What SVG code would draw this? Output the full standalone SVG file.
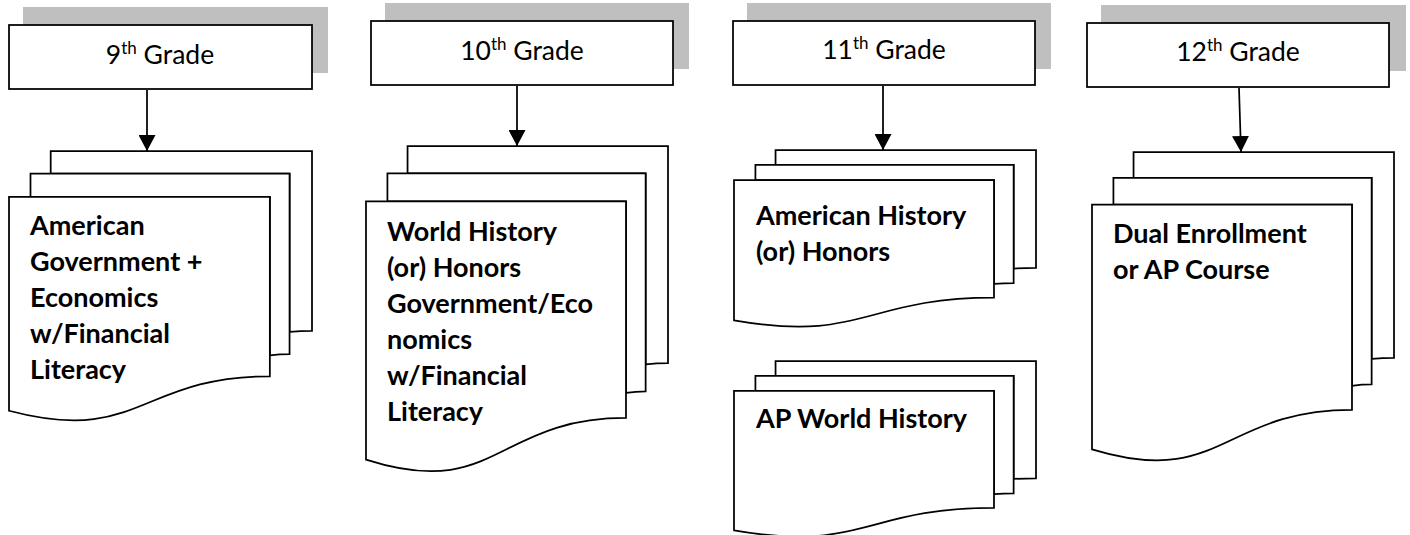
<svg xmlns="http://www.w3.org/2000/svg" xmlns:xlink="http://www.w3.org/1999/xlink" width="1410" height="535" viewBox="0 0 1410 535">
<style>
.shadow{fill:#bfbfbf;stroke:none}
.box{fill:#ffffff;stroke:#000000;stroke-width:1.75}
.doc{fill:#ffffff;stroke:#000000;stroke-width:1.75}
#multidoc path{vector-effect:non-scaling-stroke}
.hdr{font-family:Lato,"Liberation Sans",sans-serif;font-size:26.5px;fill:#000000;text-anchor:middle}
.lbl{font-family:Lato,"Liberation Sans",sans-serif;font-size:27px;font-weight:bold;fill:#000000}
.conn{stroke:#000000;stroke-width:1.75;fill:none}
</style>
<defs>
<marker id="arrow" markerUnits="userSpaceOnUse" markerWidth="16" markerHeight="17" refX="16" refY="8.5" orient="auto" viewBox="0 0 16 17">
<path d="M0,0 L16,8.5 L0,17 Z" fill="#000000"/>
</marker>
<g id="multidoc">
<path d="M2972,1815 L2972,0 L21600,0 L21600,14392 C20800,14392 20000,14467 20000,14467 L20000,1815 Z"/>
<path d="M1532,3675 L1532,1815 L20000,1815 L20000,16252 C19298,16252 18595,16352 18595,16352 L18595,3675 Z"/>
<path d="M0,20782 C9298,23542 9298,18022 18595,18022 L18595,3675 L0,3675 Z"/>
</g>
</defs>
<rect width="1410" height="535" fill="#ffffff"/>

<g id="grade9">
<rect class="shadow" x="23" y="7" width="305" height="66"/>
<rect class="box" x="9" y="25" width="303" height="64"/>
<text class="hdr" x="160" y="64">9<tspan font-size="17" dy="-10">th</tspan><tspan dy="10"> Grade</tspan></text>
</g>
<g id="grade10">
<rect class="shadow" x="385" y="3" width="304" height="66"/>
<rect class="box" x="371" y="21" width="302" height="64"/>
<text class="hdr" x="522" y="60">10<tspan font-size="17" dy="-10">th</tspan><tspan dy="10"> Grade</tspan></text>
</g>
<g id="grade11">
<rect class="shadow" x="747" y="3" width="304" height="66"/>
<rect class="box" x="733" y="21" width="302" height="64"/>
<text class="hdr" x="884" y="59">11<tspan font-size="17" dy="-10">th</tspan><tspan dy="10"> Grade</tspan></text>
</g>
<g id="grade12">
<rect class="shadow" x="1101" y="5" width="305" height="66"/>
<rect class="box" x="1087" y="23" width="302" height="64"/>
<text class="hdr" x="1238" y="61">12<tspan font-size="17" dy="-10">th</tspan><tspan dy="10"> Grade</tspan></text>
</g>

<g id="course9">
<g class="doc" transform="translate(9,151) scale(0.0140278,0.0125)"><use xlink:href="#multidoc"/></g>
<text class="lbl" x="30" y="235">American</text>
<text class="lbl" x="30" y="271">Government +</text>
<text class="lbl" x="30" y="307">Economics</text>
<text class="lbl" x="30" y="343">w/Financial</text>
<text class="lbl" x="30" y="379">Literacy</text>
</g>
<g id="course10">
<g class="doc" transform="translate(366,146) scale(0.0139815,0.0150926)"><use xlink:href="#multidoc"/></g>
<text class="lbl" x="387" y="241">World History</text>
<text class="lbl" x="387" y="277">(or) Honors</text>
<text class="lbl" x="387" y="313">Government/Eco</text>
<text class="lbl" x="387" y="349">nomics</text>
<text class="lbl" x="387" y="385">w/Financial</text>
<text class="lbl" x="387" y="421">Literacy</text>
</g>
<g id="course11a">
<g class="doc" transform="translate(734,150) scale(0.0139815,0.0081944)"><use xlink:href="#multidoc"/></g>
<text class="lbl" x="756" y="225">American History</text>
<text class="lbl" x="756" y="261">(or) Honors</text>
</g>
<g id="course11b">
<g class="doc" transform="translate(734,361) scale(0.0139815,0.0081481)"><use xlink:href="#multidoc"/></g>
<text class="lbl" x="756" y="428">AP World History</text>
</g>
<g id="course12">
<g class="doc" transform="translate(1092,152) scale(0.0139815,0.0143056)"><use xlink:href="#multidoc"/></g>
<text class="lbl" x="1113" y="243">Dual Enrollment</text>
<text class="lbl" x="1113" y="279">or AP Course</text>
</g>

<g id="connectors">
<line class="conn" x1="147" y1="90" x2="147" y2="151" marker-end="url(#arrow)"/>
<line class="conn" x1="517" y1="86" x2="517" y2="146" marker-end="url(#arrow)"/>
<line class="conn" x1="883" y1="86" x2="883" y2="150" marker-end="url(#arrow)"/>
<line class="conn" x1="1239" y1="88" x2="1241" y2="152" marker-end="url(#arrow)"/>
</g>
</svg>
